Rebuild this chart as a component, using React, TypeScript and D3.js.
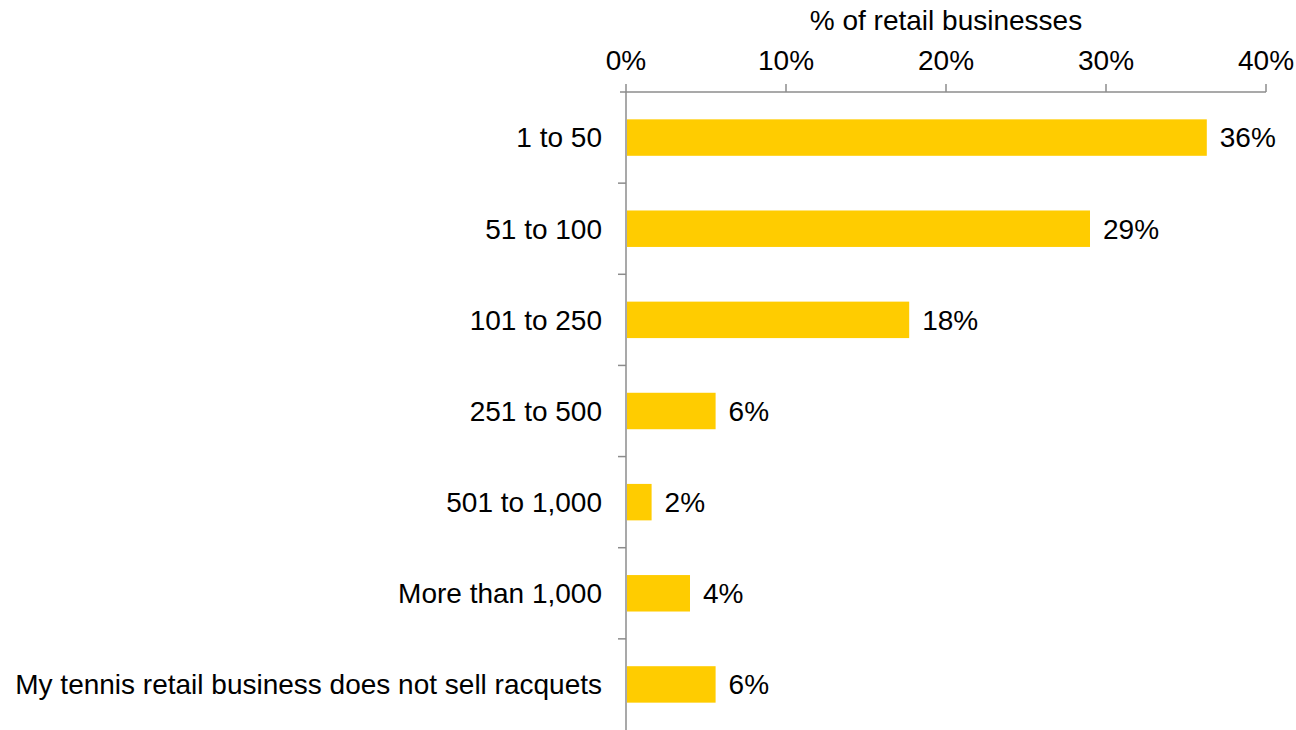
import React from "react";
import * as d3 from "d3";

const categories = [
  "1 to 50",
  "51 to 100",
  "101 to 250",
  "251 to 500",
  "501 to 1,000",
  "More than 1,000",
  "My tennis retail business does not sell racquets",
];
const values = [36.3, 29.0, 17.7, 5.6, 1.6, 4.0, 5.6];
const valueLabels = ["36%", "29%", "18%", "6%", "2%", "4%", "6%"];
const xTicks = [0, 10, 20, 30, 40];
const axisTitle = "% of retail businesses";

export default function App() {
  const W = 1296, H = 730;
  const x0 = 626, x1 = 1266, yTop = 92, yBot = 730;
  const x = d3.scaleLinear().domain([0, 40]).range([x0, x1]);
  const y = d3.scaleBand().domain(categories).range([yTop, yBot]).paddingInner(0.6).paddingOuter(0.3);
  const yb = d3.scaleBand().domain(categories).range([yTop, yBot]);
  const font = "'Liberation Sans', Arial, sans-serif";
  const axisColor = "#8c8c8c";
  const fs = 28;
  return (
    <svg width={W} height={H} style={{ position: "absolute", left: 0, top: 0, background: "#fff" }} fontFamily={font}>
      <text x={(x0 + x1) / 2} y={30} textAnchor="middle" fontSize={fs} fill="#000">{axisTitle}</text>
      {xTicks.map((t) => (
        <g key={t}>
          <line x1={x(t)} x2={x(t)} y1={yTop - 8} y2={yTop} stroke={axisColor} strokeWidth={1.5} />
          <text x={x(t)} y={70} textAnchor="middle" fontSize={fs} fill="#000">{t}%</text>
        </g>
      ))}
      <line x1={x0 - 6} x2={x1} y1={yTop} y2={yTop} stroke={axisColor} strokeWidth={1.5} />
      <line x1={x0} x2={x0} y1={yTop} y2={yBot} stroke={axisColor} strokeWidth={1.5} />
      {categories.map((c, i) => {
        const bandTop = yb(c)!;
        const cy = bandTop + yb.bandwidth() / 2;
        return (
          <g key={c}>
            {i > 0 && <line x1={x0 - 8} x2={x0} y1={bandTop} y2={bandTop} stroke={axisColor} strokeWidth={1.5} />}
            <rect x={x(0) + 1} y={y(c)!} width={x(values[i]) - x(0) - 1} height={y.bandwidth()} fill="#FFCC00" />
            <text x={602} y={cy} dy="0.35em" textAnchor="end" fontSize={fs} fill="#000">{c}</text>
            <text x={x(values[i]) + 13} y={cy} dy="0.35em" textAnchor="start" fontSize={fs} fill="#000">{valueLabels[i]}</text>
          </g>
        );
      })}
    </svg>
  );
}
